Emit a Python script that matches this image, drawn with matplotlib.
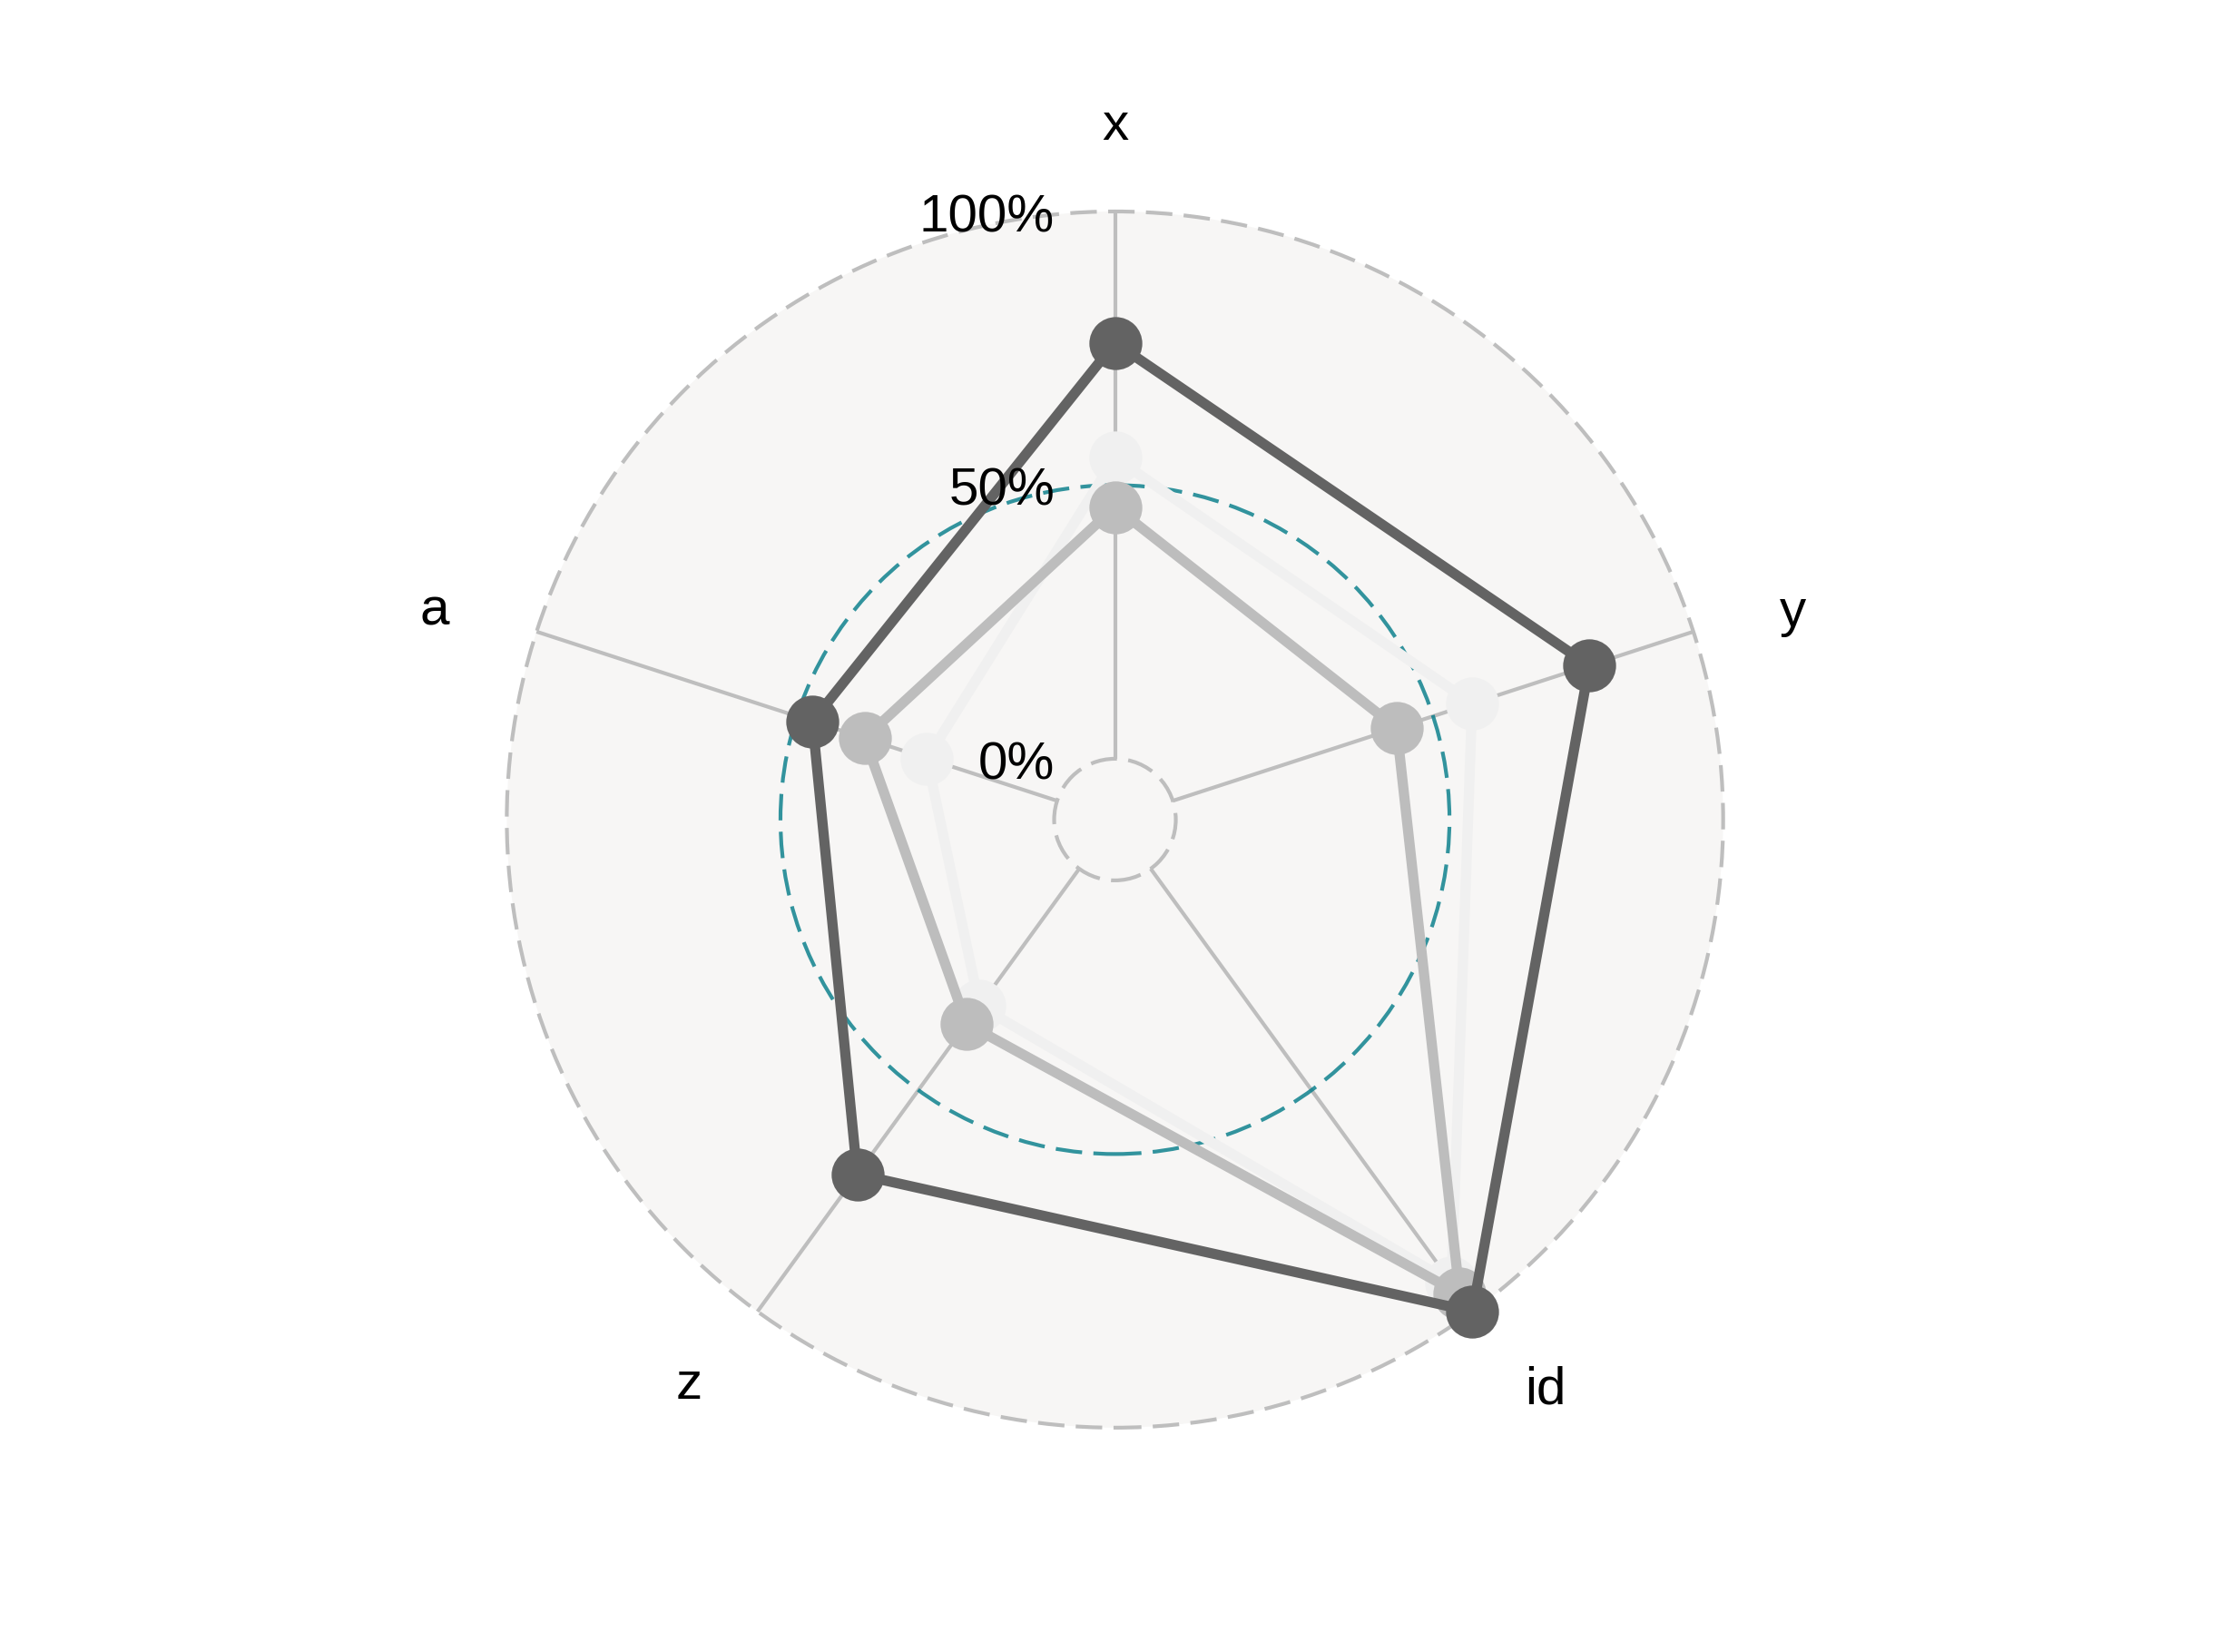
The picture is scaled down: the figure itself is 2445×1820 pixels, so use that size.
import numpy as np
import matplotlib.pyplot as plt
from matplotlib.patches import Circle

plt.rcParams['font.family'] = ['Liberation Sans', 'DejaVu Sans']

# axes of the radar, clockwise from the top
axis_names = ['x', 'y', 'id', 'z', 'a']

# values of the three groups (0..1 scale)
group_dark = [0.76, 0.80, 1.00, 0.69, 0.47]
group_mid = [0.46, 0.43, 0.96, 0.35, 0.37]
group_light = [0.55, 0.575, 0.935, 0.31, 0.25]

grid_values = [0.0, 0.5, 1.0]
grid_labels = ['0%', '50%', '100%']

# ggradar style: centre sits 1/9 of the range below grid.min
centre_y = -1 / 9


def rad(v):
    return np.asarray(v, dtype=float) - centre_y


n = len(axis_names)
theta = np.deg2rad(90 - 72 * np.arange(n))

fig = plt.figure(figsize=(8.15, 1820 / 300), dpi=300)
ax = fig.add_axes([0, 0, 1, 1])
ax.set_xlim(-2.037, 2.017)
ax.set_ylim(-1.521, 1.4975)
ax.axis('off')

# background disc
ax.add_patch(Circle((0, 0), rad(1.0), facecolor='#D7D6D1', alpha=0.2,
                    edgecolor='none', zorder=0))

# axis lines
r0, r1 = rad(0.0), rad(1.0)
for t in theta:
    ax.plot([r0 * np.cos(t), r1 * np.cos(t)], [r0 * np.sin(t), r1 * np.sin(t)],
            color='#BEBEBE', lw=1.0, zorder=1, solid_capstyle='butt')

# grid circles
for v in grid_values:
    col = '#007A87' if v == 0.5 else '#BEBEBE'
    ax.add_patch(Circle((0, 0), rad(v), fill=False, edgecolor=col, lw=1.0,
                        linestyle=(0, (7, 3)), alpha=0.8 if v == 0.5 else 1, zorder=2))

# groups
for vals, col in [(group_light, '#F0F0F0'), (group_mid, '#BDBDBD'), (group_dark, '#636363')]:
    r = rad(vals)
    xs = np.append(r * np.cos(theta), r[0] * np.cos(theta[0]))
    ys = np.append(r * np.sin(theta), r[0] * np.sin(theta[0]))
    ax.plot(xs, ys, color=col, lw=2.7, zorder=3)
    ax.plot(xs[:-1], ys[:-1], 'o', color=col, ms=14, mec='none', zorder=3)

# grid labels
for v, lab in zip(grid_values, grid_labels):
    ax.text(-0.11, rad(v) - 0.012, lab, ha='right', va='center', fontsize=14, zorder=5)

# axis labels (radius factor, angle nudge in degrees)
label_r = [1.14, 1.165, 1.175, 1.165, 1.17]
label_dang = [0, -1, 1, -1, 1]
for t, name, f, da in zip(theta, axis_names, label_r, label_dang):
    lr = f * rad(1.0)
    tt = t + np.deg2rad(da)
    ax.text(lr * np.cos(tt), lr * np.sin(tt), name, ha='center', va='center',
            fontsize=14, zorder=5)

fig.savefig('out.png', dpi=300)
